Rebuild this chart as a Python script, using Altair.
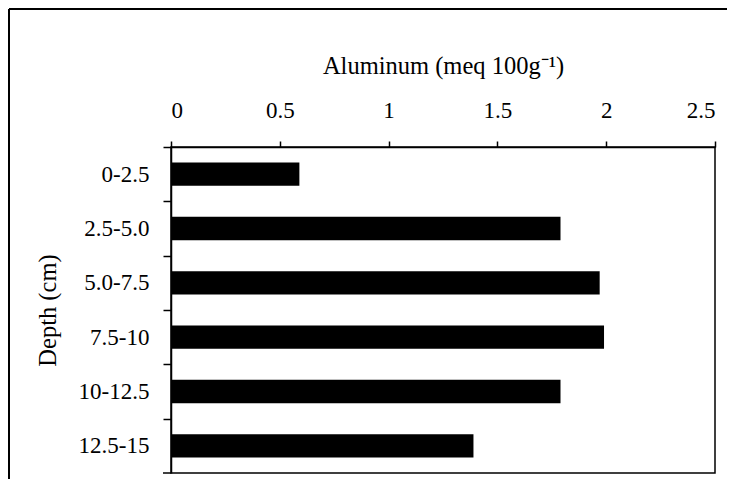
import altair as alt
import pandas as pd

# Data
depths = ["0-2.5", "2.5-5.0", "5.0-7.5", "7.5-10", "10-12.5", "12.5-15"]
aluminum = [0.59, 1.79, 1.97, 1.99, 1.79, 1.39]
x_ticks = [0, 0.5, 1, 1.5, 2, 2.5]

df = pd.DataFrame({"depth": depths, "al": aluminum})

W, H = 544, 326
PL, PT, PR, PB = 163, 139, 12, 6
FONT = "Liberation Serif, Times New Roman, Times, serif"
P_IN = 0.57
P_OUT = P_IN / 2
STEP = H / (len(depths) - P_IN + 2 * P_OUT)
HALF_GAP = P_OUT * STEP  # distance from band boundary to bar edge

bars = alt.Chart(df).mark_bar(color="black").encode(
    x=alt.X(
        "al:Q",
        scale=alt.Scale(domain=[0, 2.5], nice=False),
        axis=alt.Axis(
            orient="top",
            values=x_ticks,
            format="~g",
            title="Aluminum (meq 100g⁻¹)",
            tickSize=6,
            labelPadding=19,
            titlePadding=21,
            grid=False,
        ),
    ),
    y=alt.Y(
        "depth:N",
        sort=depths,
        scale=alt.Scale(paddingInner=P_IN, paddingOuter=P_OUT),
        axis=alt.Axis(
            title="Depth (cm)",
            bandPosition=0,
            tickOffset=-HALF_GAP,
            labelOffset=HALF_GAP,
            tickSize=8,
            labelPadding=14,
            titlePadding=18,
        ),
    ),
)

frame_df = pd.DataFrame({"k": [0]})
frame_top = alt.Chart(frame_df).mark_rule(color="black", strokeWidth=2).encode(
    x=alt.value(-(PL - 1)), x2=alt.value(W + PR), y=alt.value(-(PT - 1))
)
frame_left = alt.Chart(frame_df).mark_rule(color="black", strokeWidth=2).encode(
    x=alt.value(-(PL - 1)), y=alt.value(-(PT - 1)), y2=alt.value(H + PB)
)
bottom_tick = alt.Chart(frame_df).mark_rule(color="black", strokeWidth=1.5).encode(
    x=alt.value(-8), x2=alt.value(0), y=alt.value(H)
)

chart = (
    alt.layer(bars, bottom_tick, frame_top, frame_left)
    .properties(
        width=W,
        height=H,
        autosize=alt.AutoSizeParams(type="none"),
        padding={"left": PL, "top": PT, "right": PR, "bottom": PB},
        background="white",
    )
    .configure_view(stroke="black", strokeWidth=1.5)
    .configure_axis(
        labelFont=FONT,
        titleFont=FONT,
        labelFontSize=23,
        titleFontSize=24.5,
        titleFontWeight="normal",
        labelColor="black",
        titleColor="black",
        domainColor="black",
        tickColor="black",
        domainWidth=1.5,
        tickWidth=1.5,
    )
)

chart.save("out.html", embed_options={"renderer": "svg", "actions": False})
